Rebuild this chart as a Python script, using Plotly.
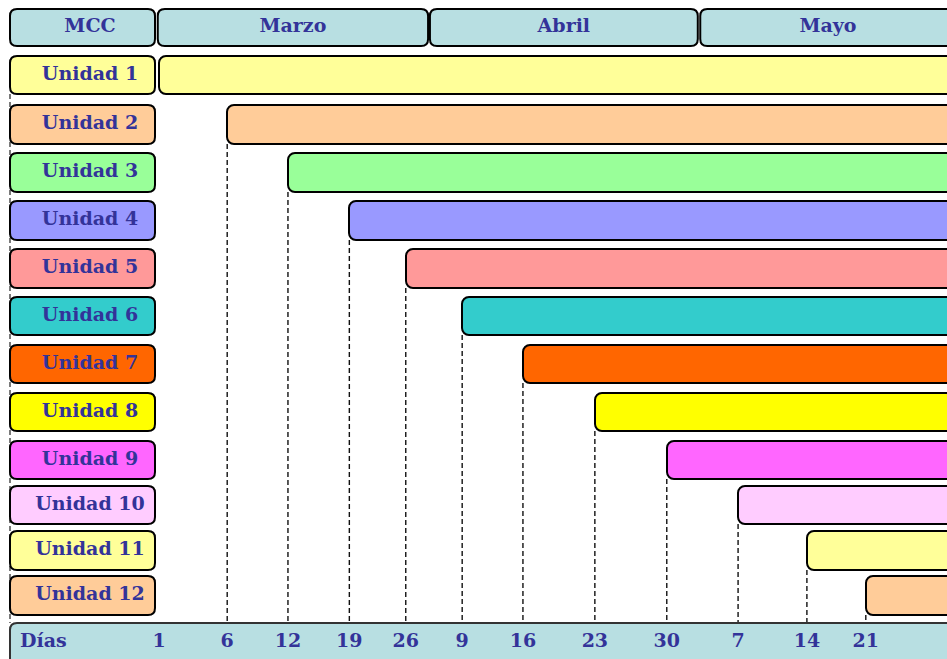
import plotly.graph_objects as go

# ---------------- data ----------------
unidades = ["Unidad 1", "Unidad 2", "Unidad 3", "Unidad 4", "Unidad 5", "Unidad 6",
            "Unidad 7", "Unidad 8", "Unidad 9", "Unidad 10", "Unidad 11", "Unidad 12"]
# index of the "Días" tick where each unit starts
inicio_idx = [0, 1, 2, 3, 4, 5, 6, 7, 8, 9, 10, 11]
dias = ["1", "6", "12", "19", "26", "9", "16", "23", "30", "7", "14", "21"]
# position of each tick on the (non-uniform) time scale, in week slots
dias_pos = [0.0, 1.10, 2.08, 3.07, 3.98, 4.89, 5.87, 7.03, 8.19, 9.34, 10.45, 11.40]
meses = ["Marzo", "Abril", "Mayo"]
meses_ini = [-0.02, 4.37, 8.73]
meses_fin = [4.34, 8.69, 12.85]
encabezado = "MCC"
etiqueta_dias = "Días"

colores = ["#ffff99", "#ffcc99", "#99ff99", "#9999ff", "#ff9999", "#33cccc",
           "#ff6600", "#ffff00", "#ff66ff", "#ffccff", "#ffff99", "#ffcc99"]

# ---------------- layout helpers ----------------
W, H = 947, 659
PX = 62.0                      # pixels per x unit
X_RANGE = [-159 / PX, (W - 159) / PX]
HEAD_BLUE = "#b8dfe2"
TXT = "#333399"
FONT = dict(family="DejaVu Serif", size=19, color=TXT, weight="bold")

row_top = [56, 105, 153, 201, 249, 297, 345, 393, 441, 486, 531, 576]
row_bot = [94, 144, 192, 240, 288, 335, 383, 431, 479, 524, 570, 615]
head_top, head_bot = 9, 46
dias_top = 623
lab_x0, lab_x1 = (10 - 159) / PX, (155 - 159) / PX
lab_xc = (90 - 159) / PX
BAR_END = 14.0
DASH = "5px,3px"


def rrect(x0, x1, y0, y1, r=7):
    rx, ry = r / PX, r
    return (f"M {x0+rx},{y0} L {x1-rx},{y0} Q {x1},{y0} {x1},{y0+ry} "
            f"L {x1},{y1-ry} Q {x1},{y1} {x1-rx},{y1} L {x0+rx},{y1} "
            f"Q {x0},{y1} {x0},{y1-ry} L {x0},{y0+ry} Q {x0},{y0} {x0+rx},{y0} Z")


shapes = []
# dashed guide lines
shapes.append(dict(type="line", x0=lab_x0, x1=lab_x0, y0=row_bot[0], y1=dias_top,
                   line=dict(color="#333333", width=1.3, dash=DASH), layer="below"))
for i in range(1, len(unidades)):
    xp = dias_pos[inicio_idx[i]]
    shapes.append(dict(type="line", x0=xp, x1=xp, y0=row_bot[i], y1=dias_top,
                       line=dict(color="#111111", width=1.4, dash=DASH), layer="below"))

# header boxes
shapes.append(dict(type="path", path=rrect(lab_x0, lab_x1, head_top, head_bot),
                   fillcolor=HEAD_BLUE, line=dict(color="black", width=2), layer="below"))
for m0, m1 in zip(meses_ini, meses_fin):
    shapes.append(dict(type="path", path=rrect(m0, m1, head_top, head_bot),
                       fillcolor=HEAD_BLUE, line=dict(color="black", width=2), layer="below"))
# unit label boxes
for i in range(len(unidades)):
    shapes.append(dict(type="path", path=rrect(lab_x0, lab_x1, row_top[i], row_bot[i]),
                       fillcolor=colores[i], line=dict(color="black", width=2), layer="below"))
# Días row
shapes.append(dict(type="path", path=rrect(lab_x0, BAR_END, dias_top, H + 30),
                   fillcolor=HEAD_BLUE, line=dict(color="#333333", width=2), layer="below"))

fig = go.Figure()

# unit bars (drawn right-to-left so the rounded end is the start)
yc = [(a + b) / 2 for a, b in zip(row_top, row_bot)]
hts = [b - a for a, b in zip(row_top, row_bot)]
starts = [dias_pos[k] for k in inicio_idx]
fig.add_trace(go.Bar(
    orientation="h",
    y=yc,
    x=[s - BAR_END for s in starts],
    base=[BAR_END] * len(starts),
    width=hts,
    marker=dict(color=colores, line=dict(color="black", width=2), cornerradius=7),
    hoverinfo="skip",
    showlegend=False,
))

# texts
fig.add_trace(go.Scatter(
    x=[lab_xc] * len(unidades), y=yc, text=unidades, mode="text",
    textfont=FONT, textposition="middle center", showlegend=False, hoverinfo="skip"))
fig.add_trace(go.Scatter(
    x=[lab_xc] + [(a + b) / 2 for a, b in zip(meses_ini, meses_fin)],
    y=[(head_top + head_bot) / 2] * (len(meses) + 1),
    text=[encabezado] + meses, mode="text",
    textfont=FONT, textposition="middle center", showlegend=False, hoverinfo="skip"))
fig.add_trace(go.Scatter(
    x=dias_pos, y=[642] * len(dias), text=dias, mode="text",
    textfont=FONT, textposition="middle center", showlegend=False, hoverinfo="skip"))
fig.add_trace(go.Scatter(
    x=[(20 - 159) / PX], y=[642], text=[etiqueta_dias], mode="text",
    textfont=FONT, textposition="middle right", showlegend=False, hoverinfo="skip"))

fig.update_layout(
    width=W, height=H,
    margin=dict(l=0, r=0, t=0, b=0),
    paper_bgcolor="white", plot_bgcolor="white",
    shapes=shapes,
    xaxis=dict(range=X_RANGE, visible=False, fixedrange=True),
    yaxis=dict(range=[H, 0], visible=False, fixedrange=True),
    bargap=0,
)

fig.write_html("out.html", config={"displayModeBar": False},
               post_script="document.body.style.margin='0';document.body.style.overflow='hidden';")
